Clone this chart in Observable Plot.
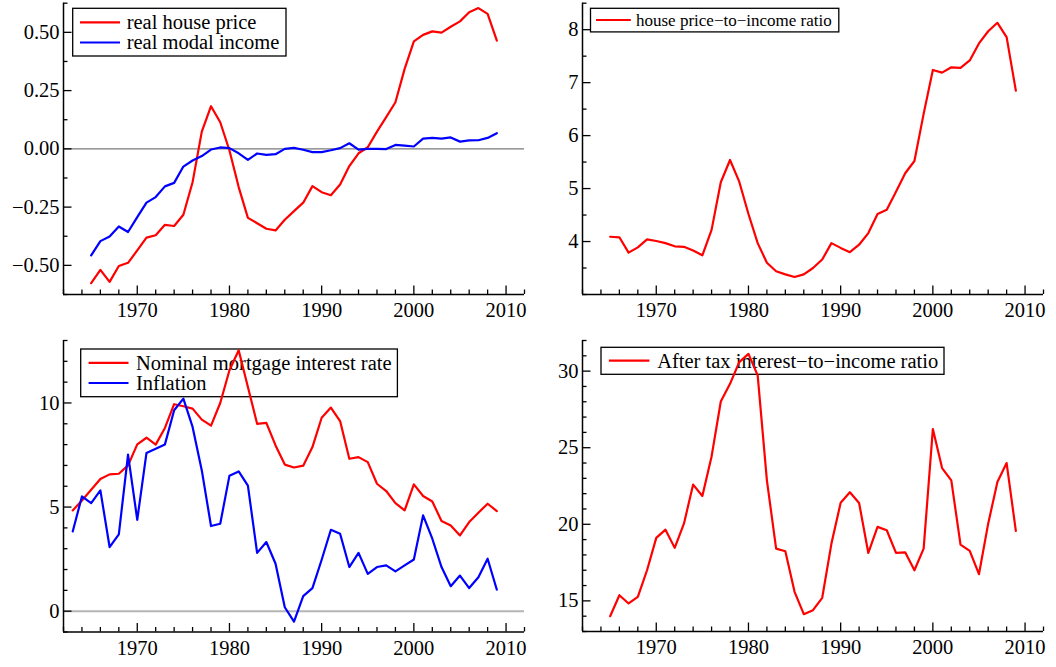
<!DOCTYPE html>
<html>
<head>
<meta charset="utf-8">
<script src="https://cdn.jsdelivr.net/npm/d3@7"></script>
<script src="https://cdn.jsdelivr.net/npm/@observablehq/plot@0.6"></script>
<style>
  body { margin: 0; background: #fff; }
  #fig { position: relative; width: 1056px; height: 667px; overflow: hidden; background: #fff; }
  .panel { position: absolute; }
  .panel svg text { font-family: "Liberation Serif", "Times New Roman", serif !important; font-variant: normal !important; }
</style>
</head>
<body>
<div id="fig"></div>
<script>
// ---- data ---------------------------------------------------------------
const years65 = d3.range(1965, 2010);   // 1965 … 2009
const years63 = d3.range(1963, 2010);   // 1963 … 2009

// log deviations (real terms)
const realHousePrice = [-0.576,-0.519,-0.571,-0.503,-0.489,-0.436,-0.381,-0.371,-0.326,-0.331,
  -0.283,-0.143,0.074,0.183,0.114,-0.007,-0.164,-0.296,-0.319,-0.343,
  -0.350,-0.304,-0.267,-0.231,-0.160,-0.186,-0.199,-0.153,-0.074,-0.019,
  0.007,0.074,0.136,0.200,0.343,0.461,0.489,0.504,0.499,0.524,
  0.547,0.586,0.604,0.579,0.464];
const realModalIncome = [-0.457,-0.396,-0.376,-0.333,-0.357,-0.293,-0.231,-0.207,-0.161,-0.146,
  -0.076,-0.050,-0.031,-0.003,0.006,0.003,-0.019,-0.047,-0.020,-0.026,
  -0.023,0.000,0.004,-0.004,-0.014,-0.014,-0.006,0.003,0.024,-0.003,
  0.000,0.000,-0.001,0.017,0.014,0.010,0.044,0.047,0.044,0.049,
  0.031,0.036,0.037,0.047,0.067];

const priceToIncome = [4.09,4.08,3.79,3.89,4.04,4.01,3.97,3.91,3.90,3.83,
  3.74,4.22,5.12,5.54,5.13,4.52,3.97,3.60,3.44,3.38,
  3.33,3.38,3.50,3.66,3.97,3.88,3.80,3.94,4.16,4.52,
  4.60,4.94,5.29,5.52,6.41,7.24,7.19,7.29,7.28,7.42,
  7.74,7.97,8.13,7.86,6.85];

// per cent, 1963 … 2009
const mortgageRate = [4.84,5.32,5.83,6.35,6.57,6.60,7.00,8.01,8.33,8.00,
  8.80,9.94,9.84,9.73,9.20,8.91,10.00,11.57,12.53,10.77,
  9.00,9.04,7.96,7.04,6.90,6.99,7.88,9.29,9.78,9.13,
  7.32,7.40,7.16,6.12,5.77,5.19,4.84,6.09,5.53,5.27,
  4.33,4.12,3.64,4.28,4.73,5.16,4.81];
const inflation = [3.83,5.51,5.19,5.80,3.08,3.69,7.52,4.39,7.60,7.80,
  8.01,9.65,10.21,8.85,6.76,4.09,4.20,6.51,6.71,6.03,
  2.80,3.32,2.28,0.19,-0.50,0.72,1.11,2.47,3.91,3.72,
  2.12,2.80,1.79,2.12,2.20,1.91,2.20,2.48,4.60,3.48,
  2.12,1.20,1.71,1.11,1.63,2.52,1.03];

const interestToIncome = [14.00,15.37,14.83,15.26,17.00,19.11,19.65,18.46,20.04,22.59,
  21.85,24.43,28.02,29.17,30.59,31.13,29.72,22.87,18.41,18.24,
  15.59,14.13,14.39,15.20,18.74,21.41,22.09,21.39,18.13,19.83,
  19.61,18.13,18.17,17.00,18.41,26.22,23.67,22.87,18.67,18.26,
  16.74,20.04,22.76,24.00,19.57];

// ---- axes ---------------------------------------------------------------
const xDomain = [1962, 2012];
const xMajor = [1970, 1980, 1990, 2000, 2010];
const xMinor = d3.range(1962, 2013, 2).filter(v => !xMajor.includes(v));

const RED = "#ff0000", BLUE = "#0000ff";
const SERIF = "'Liberation Serif', 'Times New Roman', serif";

const table = (xs, ys) => xs.map((x, i) => ({x, y: ys[i]}));

function legendMark(spec) {
  return (index, scales, values, dim) => {
    const g = d3.create("svg:g")
      .attr("transform", `translate(${dim.marginLeft},${dim.marginTop})`);
    const [x0, y0, x1, y1] = spec.box;
    g.append("rect")
      .attr("x", x0).attr("y", y0).attr("width", x1 - x0).attr("height", y1 - y0)
      .attr("fill", "white").attr("stroke", "black").attr("stroke-width", 1.3);
    spec.entries.forEach((e, i) => {
      const y = spec.rows[i];
      g.append("line")
        .attr("x1", spec.lineX[0]).attr("x2", spec.lineX[1])
        .attr("y1", y).attr("y2", y)
        .attr("stroke", e.color).attr("stroke-width", 2.2);
      g.append("text")
        .attr("x", spec.textX).attr("y", y + spec.baseline)
        .attr("text-anchor", "start")
        .attr("font-family", SERIF)
        .attr("font-size", spec.fontSize).attr("fill", "black")
        .text(e.label);
    });
    return g.node();
  };
}

function panel(cfg) {
  const W = cfg.width - cfg.margin[1] - cfg.margin[3];
  const H = cfg.height - cfg.margin[0] - cfg.margin[2];
  const yMinor = cfg.yMinor.filter(v => !cfg.yMajor.some(m => Math.abs(m - v) < 1e-9));
  const marks = [];
  if (cfg.zero) marks.push(Plot.ruleY([0], {stroke: cfg.zero.color, strokeWidth: cfg.zero.width}));
  marks.push(legendMark(cfg.legend));
  cfg.series.forEach(s => {
    marks.push(Plot.line(table(s.x, s.y), {x: "x", y: "y", stroke: s.color, strokeWidth: 2.2}));
  });
  marks.push(
    Plot.ruleX([xDomain[0]], {stroke: "black", strokeWidth: 1.5}),
    Plot.ruleY([cfg.yDomain[0]], {stroke: "black", strokeWidth: 1.5}),
    Plot.tickX(xMajor, {x: d => d, insetTop: H - 8.5, stroke: "black", strokeWidth: 1.3}),
    Plot.tickX(xMinor, {x: d => d, insetTop: H - 4.5, stroke: "black", strokeWidth: 1.3}),
    Plot.tickY(cfg.yMajor, {y: d => d, insetRight: W - 8.5, stroke: "black", strokeWidth: 1.3}),
    Plot.tickY(yMinor, {y: d => d, insetRight: W - 4.5, stroke: "black", strokeWidth: 1.3}),
    Plot.axisX(xMajor, {tickSize: 0, tickPadding: 8, tickFormat: d => String(d), label: null,
      fontFamily: SERIF, fontSize: 20.5, fill: "black"}),
    Plot.axisY(cfg.yMajor, {tickSize: 0, tickPadding: 4, tickFormat: cfg.yFormat, label: null,
      fontFamily: SERIF, fontSize: 20.5, fill: "black"})
  );
  const chart = Plot.plot({
    width: cfg.width,
    height: cfg.height,
    marginTop: cfg.margin[0],
    marginRight: cfg.margin[1],
    marginBottom: cfg.margin[2],
    marginLeft: cfg.margin[3],
    x: {domain: xDomain},
    y: {domain: cfg.yDomain},
    style: {fontFamily: SERIF, fontSize: "20.5px", color: "black", background: "white"},
    marks
  });
  const holder = document.createElement("div");
  holder.className = "panel";
  holder.style.left = cfg.left + "px";
  holder.style.top = cfg.top + "px";
  holder.appendChild(chart);
  document.getElementById("fig").appendChild(holder);
}

// top left: real house price and real modal income
panel({
  left: 0, top: 0, width: 528, height: 330, margin: [2.7, 4, 36, 63],
  yDomain: [-0.625, 0.625],
  yMajor: [-0.5, -0.25, 0, 0.25, 0.5],
  yMinor: d3.range(-0.625, 0.626, 0.125),
  yFormat: d3.format(".2f"),
  zero: {color: "#7a7a7a", width: 1.1},
  series: [
    {x: years65, y: realHousePrice, color: RED},
    {x: years65, y: realModalIncome, color: BLUE}
  ],
  legend: {
    box: [9.7, 5.6, 223, 53.3], rows: [19.6, 39.8], lineX: [17, 57], textX: 63.7,
    baseline: 7, fontSize: "20.5px",
    entries: [{label: "real house price", color: RED}, {label: "real modal income", color: BLUE}]
  }
});

// top right: house price-to-income ratio
panel({
  left: 528, top: 0, width: 528, height: 330, margin: [2.7, 13, 36, 54],
  yDomain: [3, 8.5],
  yMajor: [4, 5, 6, 7, 8],
  yMinor: d3.range(3, 8.51, 0.5),
  yFormat: d3.format("d"),
  series: [{x: years65, y: priceToIncome, color: RED}],
  legend: {
    box: [8.5, 5.6, 256.8, 29.2], rows: [17.3], lineX: [14, 48.8], textX: 54,
    baseline: 6, fontSize: "17px",
    entries: [{label: "house price\u2212to\u2212income ratio", color: RED}]
  }
});

// bottom left: nominal mortgage rate and inflation
panel({
  left: 0, top: 330, width: 528, height: 337, margin: [10, 4, 35.5, 63],
  yDomain: [-1, 13],
  yMajor: [0, 5, 10],
  yMinor: d3.range(-1, 13.01, 1),
  yFormat: d3.format("d"),
  zero: {color: "#b4b4b4", width: 2},
  series: [
    {x: years63, y: mortgageRate, color: RED},
    {x: years63, y: inflation, color: BLUE}
  ],
  legend: {
    box: [17.7, 9, 334.4, 56.7], rows: [22.8, 43], lineX: [25.6, 65.5], textX: 73,
    baseline: 7, fontSize: "20.5px",
    entries: [{label: "Nominal mortgage interest rate", color: RED}, {label: "Inflation", color: BLUE}]
  }
});

// bottom right: after-tax interest-to-income ratio
panel({
  left: 528, top: 330, width: 528, height: 337, margin: [10, 13, 36, 54],
  yDomain: [13, 32],
  yMajor: [15, 20, 25, 30],
  yMinor: d3.range(13, 32.01, 1),
  yFormat: d3.format("d"),
  series: [{x: years65, y: interestToIncome, color: RED}],
  legend: {
    box: [19, 7.3, 362, 34.3], rows: [20.7], lineX: [26.9, 67.4], textX: 75.2,
    baseline: 7, fontSize: "20.5px",
    entries: [{label: "After tax interest\u2212to\u2212income ratio", color: RED}]
  }
});
</script>
</body>
</html>
